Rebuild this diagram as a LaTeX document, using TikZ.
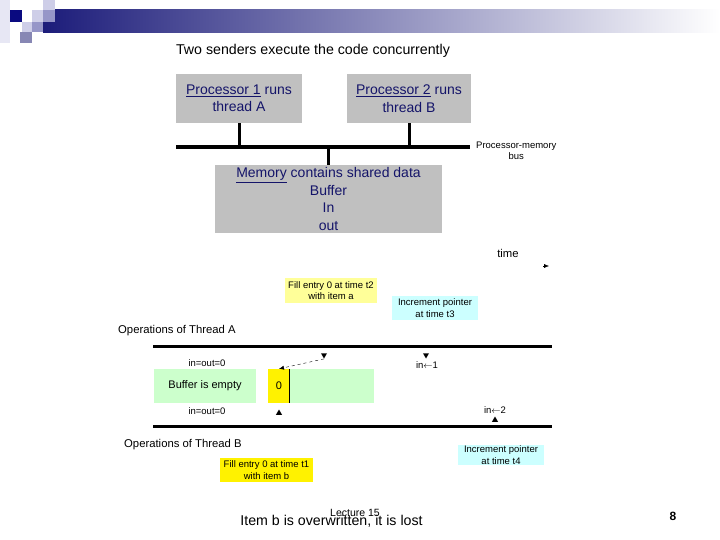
\documentclass[tikz,border=0pt]{standalone}
\usepackage{fontspec}
\setmainfont{Liberation Sans}
\usetikzlibrary{arrows.meta, positioning, shapes.geometric}

\definecolor{hdnavy}{RGB}{28,28,122}
\definecolor{sqdark}{RGB}{10,10,128}
\definecolor{sqmid}{RGB}{150,150,200}
\definecolor{sqlight}{RGB}{206,206,232}
\definecolor{boxgray}{RGB}{192,192,192}
\definecolor{boxtext}{RGB}{20,20,105}
\definecolor{paleyellow}{RGB}{255,255,153}
\definecolor{paleblue}{RGB}{204,255,255}
\definecolor{palegreen}{RGB}{204,255,204}

\begin{document}
\begin{tikzpicture}[
  x=1pt, y=-1pt,
  graybox/.style={fill=boxgray, inner sep=0pt, text=boxtext, align=center, font=\fontsize{14}{17.5}\selectfont},
  note/.style={inner sep=0pt, align=center, font=\fontsize{9.5}{11.5}\selectfont},
  caption/.style={inner sep=0pt, font=\fontsize{11.3}{13}\selectfont},
  bigtext/.style={inner sep=0pt, font=\fontsize{14.2}{17}\selectfont},
  cell/.style={inner sep=0pt, minimum height=34pt, font=\fontsize{11}{13}\selectfont},
  timeline/.style={line width=3pt},
  downtri/.style={regular polygon, regular polygon sides=3, shape border rotate=180, fill=black, inner sep=0pt, minimum size=7pt},
  uptri/.style={regular polygon, regular polygon sides=3, fill=black, inner sep=0pt, minimum size=7pt},
]
\useasboundingbox (0,0) rectangle (720,540);

% header bar
\shade[left color=hdnavy, middle color=hdnavy!38, right color=white] (43,10) rectangle (720,33);
\fill[sqlight!50] (0,0) rectangle (10,43);
\fill[sqdark] (10,10) rectangle (22,22);
\fill[sqlight] (43,0) rectangle (55,10);
\fill[sqlight] (32,10) rectangle (43,22);
\fill[sqmid] (43,10) rectangle (55,22);
\fill[sqlight] (22,22) rectangle (32,32);
\fill[sqmid] (32,22) rectangle (43,32);
\fill[sqmid!90!black] (20,32) rectangle (32,43);

\node[bigtext] (title) at (313,51) {Two senders execute the code concurrently};

% processors, bus and memory
\node[graybox, minimum width=126pt, minimum height=49pt] (proc1) at (239,98.5) {\underline{Processor 1} runs\\thread A};
\node[graybox, minimum width=124pt, minimum height=49pt] (proc2) at (409,98.5) {\underline{Processor 2} runs\\thread B};
\coordinate (busL) at (176,147);
\coordinate (busR) at (470,147);
\draw[line width=4pt] (busL) -- (busR);
\node[note, anchor=west] (buslbl) at (476,151) {Processor-memory\\bus};
\node[graybox, minimum width=227pt, minimum height=68pt] (mem) at (328.5,199) {\underline{Memory} contains shared data\\Buffer\\In\\out};
\draw[line width=3pt] (proc1.south) -- (proc1.south |- busL);
\draw[line width=3pt] (proc2.south) -- (proc2.south |- busL);
\draw[line width=3pt] (mem.north) -- (mem.north |- busL);

% time axis
\node[caption] (time) at (508,253) {time};
\coordinate (tA) at (543,266);
\coordinate (tB) at (549,266);
\draw[-{Latex[length=5pt,width=4pt]}] (tA) -- (tB);

% thread A
\node[note, fill=paleyellow, minimum width=92pt, minimum height=25pt] (fillA) at (331,290.5) {Fill entry 0 at time t2\\with item a};
\node[note, fill=paleblue, minimum width=86pt, minimum height=24pt] (incA) at (435,308) {Increment pointer\\at time t3};
\node[caption, anchor=west] (opsA) at (118,331) {Operations of Thread A};
\coordinate (lnAL) at (153,346);
\coordinate (lnAR) at (552,346);
\draw[timeline] (lnAL) -- (lnAR);

% buffer
\node[note] (state0) at (207,363) {in=out=0};
\node[cell, fill=palegreen, minimum width=102pt] (empty) at (205,386) {Buffer is empty};
\node[cell, fill=yellow, minimum width=22pt] (cell0) at (279,386) {0};
\node[cell, fill=palegreen, minimum width=84pt] (buf) at (332,386) {};
\draw[line width=1.2pt] (buf.north west) -- (buf.south west);
\node[note] (state1) at (207,411) {in=out=0};

% markers
\node[downtri] (t2mark) at (324,355) {};
\node[downtri] (t3mark) at (426,355) {};
\node[note] (in1) at (427,365) {in$\leftarrow$1};
\node[uptri] (t1mark) at (279,413) {};
\node[note] (in2) at (495,410) {in$\leftarrow$2};
\node[uptri] (t4mark) at (495,420) {};
\draw[dashed, -{Latex[length=5pt,width=4pt]}] (t2mark.south) -- (cell0.north);

% thread B
\coordinate (lnBL) at (153,426);
\coordinate (lnBR) at (552,426);
\draw[timeline] (lnBL) -- (lnBR);
\node[caption, anchor=west] (opsB) at (124,445) {Operations of Thread B};
\node[note, fill=yellow, minimum width=93pt, minimum height=24pt] (fillB) at (266.5,470) {Fill entry 0 at time t1\\with item b};
\node[note, fill=paleblue, minimum width=86pt, minimum height=20pt] (incB) at (501,455) {Increment pointer\\at time t4};

% footer
\node[bigtext] (lost) at (331.5,521) {Item b is overwritten, it is lost};
\node[inner sep=0pt, font=\fontsize{10.5}{12}\selectfont] (lecture) at (355,513) {Lecture 15};
\node[inner sep=0pt, font=\fontsize{12}{14}\selectfont\bfseries] (page) at (673,516) {8};
\end{tikzpicture}
\end{document}
